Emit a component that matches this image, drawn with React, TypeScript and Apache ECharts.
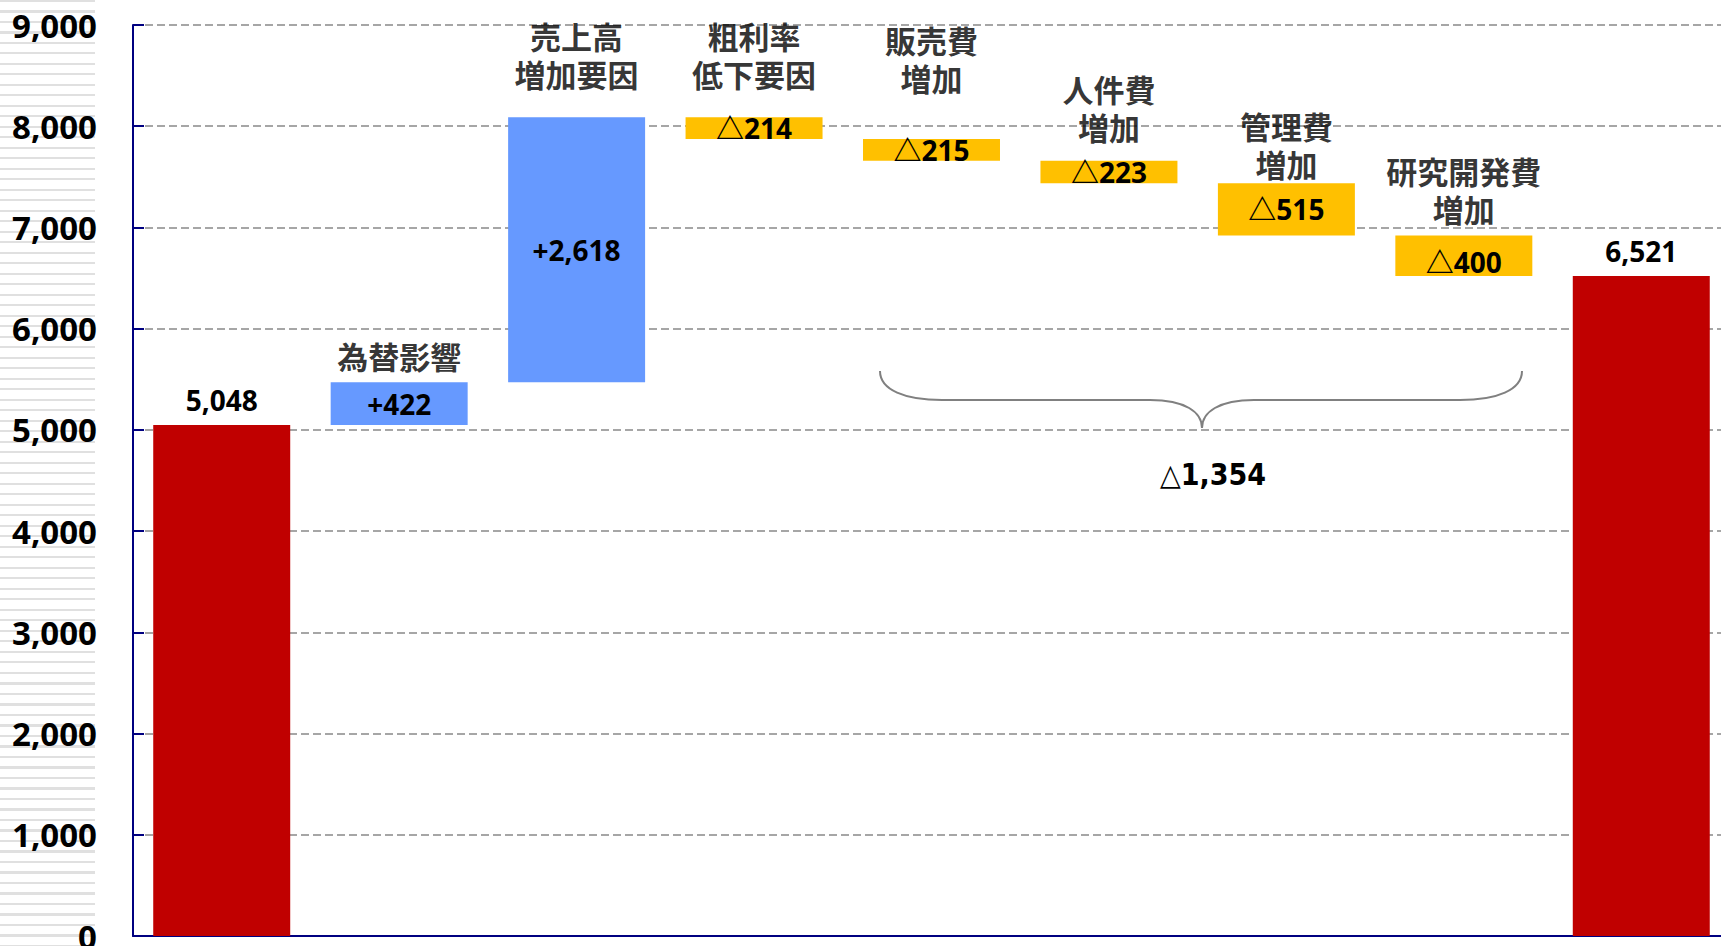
import React, { useEffect, useRef } from "react";
import * as echarts from "echarts";

const categories = [
  "前期実績",
  "為替影響",
  "売上高\n増加要因",
  "粗利率\n低下要因",
  "販売費\n増加",
  "人件費\n増加",
  "管理費\n増加",
  "研究開発費\n増加",
  "当期実績",
];
const startValue = 5048;
const changes = [422, 2618, -214, -215, -223, -515, -400];
const endValue = 6521;
const bracedTotalLabel = "△1,354";
const yMin = 0;
const yMax = 9000;
const yInterval = 1000;

// style: gap (px) between bar top and the category caption
const captionGap = [0, 6, 23, 23, 40, 13, -1, 6, 0];
// style: vertical nudge (px) of the value label inside each bar
const valueLabelNudge = [0, 0, 0, 0, 0, 0, 0, 6, 0];

const RED = "#C00000";
const BLUE = "#6699FF";
const YELLOW = "#FFC000";
const FONT = "'Noto Sans', 'Noto Sans CJK JP', sans-serif";

export default function App() {
  const ref = useRef<HTMLDivElement>(null);

  useEffect(() => {
    if (!ref.current) return;
    const chart = echarts.init(ref.current, undefined, { renderer: "svg" });

    const amounts = [startValue, ...changes.map((c) => Math.abs(c)), endValue];
    const bases: number[] = [0];
    let running = startValue;
    changes.forEach((c) => {
      if (c >= 0) {
        bases.push(running);
        running += c;
      } else {
        running += c;
        bases.push(running);
      }
    });
    bases.push(0);
    const tops = amounts.map((a, i) => a + bases[i]);

    const fmt = (n: number) => n.toLocaleString("en-US");

    const visibleData = amounts.map((a, i) => {
      const isTotal = i === 0 || i === amounts.length - 1;
      const change = isTotal ? 0 : changes[i - 1];
      const color = isTotal ? RED : change >= 0 ? BLUE : YELLOW;
      const text = isTotal ? fmt(a) : change >= 0 ? "+" + fmt(a) : "△" + fmt(a);
      return {
        value: a,
        itemStyle: { color },
        label: {
          show: true,
          position: isTotal ? "top" : "inside",
          distance: isTotal ? 11 : 5,
          offset: [0, valueLabelNudge[i]],
          formatter: text,
          color: "#000",
          fontSize: 28,
          fontWeight: "bold",
          fontFamily: FONT,
        },
      };
    });

    const captionData = categories
      .map((name, i) => ({ name, i }))
      .filter((d) => d.i > 0 && d.i < categories.length - 1)
      .map((d) => ({
        value: [d.i, tops[d.i]],
        label: { distance: captionGap[d.i] },
      }));

    chart.setOption({
      animation: false,
      grid: { left: 133, top: 25, bottom: 10, width: 1597, outerBoundsMode: "none", containLabel: false },
      xAxis: {
        type: "category",
        data: categories,
        axisLine: { show: true, lineStyle: { color: "#000080", width: 2 } },
        axisTick: { show: false },
        axisLabel: { show: false },
        splitLine: { show: false },
      },
      yAxis: {
        type: "value",
        min: yMin,
        max: yMax,
        interval: yInterval,
        axisLine: { show: true, lineStyle: { color: "#000080", width: 2 } },
        axisTick: { show: true, inside: true, length: 11, lineStyle: { color: "#000080", width: 2 } },
        axisLabel: {
          formatter: (v: number) => fmt(v),
          color: "#000",
          fontSize: 33,
          fontWeight: "bold",
          fontFamily: FONT,
          margin: 36,
        },
        splitLine: {
          show: true,
          lineStyle: { color: "#a6a6a6", width: 2, type: [8, 4] },
        },
      },
      series: [
        {
          type: "bar",
          stack: "w",
          data: bases,
          itemStyle: { color: "transparent" },
          barCategoryGap: "22.8%",
          silent: true,
        },
        {
          type: "bar",
          stack: "w",
          data: visibleData,
          barCategoryGap: "22.8%",
        },
        {
          type: "scatter",
          data: captionData,
          symbolSize: 1,
          itemStyle: { color: "transparent" },
          z: 5,
          label: {
            show: true,
            position: "top",
            formatter: (p: any) => categories[p.value[0]],
            color: "#000",
            fontSize: 31,
            lineHeight: 38,
            fontWeight: "bold",
            fontFamily: FONT,
            align: "center",
          },
        },
      ],
      graphic: [
        {
          type: "group",
          children: [
            { type: "bezierCurve", shape: { x1: 880, y1: 371, cpx1: 880, cpy1: 390, cpx2: 905, cpy2: 400, x2: 942, y2: 400 }, style: { stroke: "#808080", lineWidth: 2, fill: "none" } },
            { type: "line", shape: { x1: 942, y1: 400, x2: 1150, y2: 400 }, style: { stroke: "#808080", lineWidth: 2 } },
            { type: "bezierCurve", shape: { x1: 1150, y1: 400, cpx1: 1185, cpy1: 400, cpx2: 1202, cpy2: 412, x2: 1202, y2: 428 }, style: { stroke: "#808080", lineWidth: 2, fill: "none" } },
            { type: "bezierCurve", shape: { x1: 1202, y1: 428, cpx1: 1202, cpy1: 412, cpx2: 1219, cpy2: 400, x2: 1254, y2: 400 }, style: { stroke: "#808080", lineWidth: 2, fill: "none" } },
            { type: "line", shape: { x1: 1254, y1: 400, x2: 1460, y2: 400 }, style: { stroke: "#808080", lineWidth: 2 } },
            { type: "bezierCurve", shape: { x1: 1460, y1: 400, cpx1: 1497, cpy1: 400, cpx2: 1522, cpy2: 390, x2: 1522, y2: 371 }, style: { stroke: "#808080", lineWidth: 2, fill: "none" } },
            {
              type: "text",
              x: 1213,
              y: 474,
              style: {
                text: bracedTotalLabel,
                fill: "#000",
                font: "bold 30px 'Liberation Sans Narrow', 'DejaVu Sans Condensed', sans-serif",
                align: "center",
                verticalAlign: "middle",
              },
            },
          ],
        },
      ],
    });

    return () => chart.dispose();
  }, []);

  return (
    <div
      style={{
        position: "fixed",
        left: 0,
        top: 0,
        width: 1721,
        height: 946,
        overflow: "hidden",
        background: "#fff",
      }}
    >
      <div
        style={{
          position: "absolute",
          left: 0,
          top: 0,
          width: 95,
          height: 946,
          background:
            "repeating-linear-gradient(to bottom, #e0e0e0 0px, #e0e0e0 2px, #ffffff 2px, #ffffff 10.5px)",
        }}
      />
      <div ref={ref} style={{ position: "absolute", left: 0, top: 0, width: 1740, height: 946 }} />
    </div>
  );
}
